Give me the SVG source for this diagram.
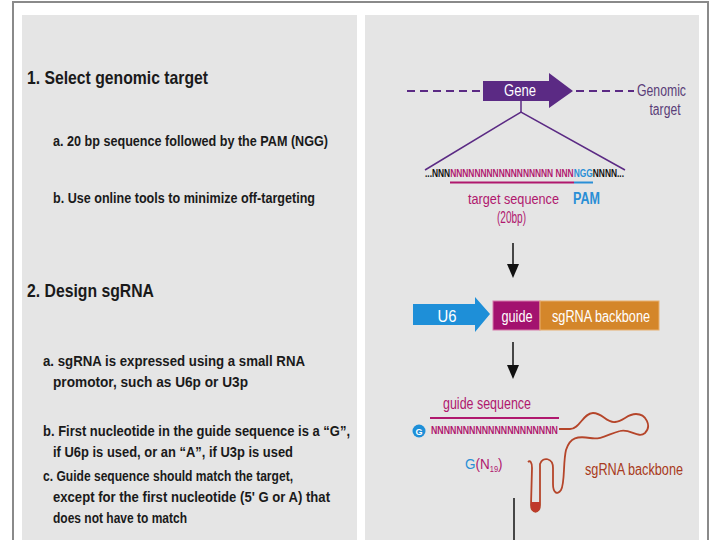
<svg xmlns="http://www.w3.org/2000/svg" width="720" height="540" viewBox="0 0 720 540">
<defs>
<style>
.panel{fill:#e5e5e5}
.frame{stroke:#8a8a8a;stroke-width:2;fill:none}
.h{font-family:"Liberation Sans",Arial,sans-serif;font-weight:bold;font-size:19px;fill:#1a1a1a}
.t{font-family:"Liberation Sans",Arial,sans-serif;font-weight:bold;font-size:15.5px;fill:#1a1a1a}
.r{font-family:"Liberation Sans",Arial,sans-serif;font-size:16px}
.seq{font-family:"Liberation Sans",Arial,sans-serif;font-weight:bold;font-size:8.4px}
.mag{fill:#b0186e}
.blu{fill:#2a8fd6}
.pur{fill:#5a3d78}
.wht{fill:#ffffff}
.blk{fill:#111111}
.conn{stroke:#111;stroke-width:1.5;fill:none}
.dash{stroke:#5b2a84;stroke-width:2;stroke-dasharray:8 5;fill:none}
</style>
<marker id="ah" viewBox="0 0 14 12" refX="6" refY="6" markerWidth="14" markerHeight="12" markerUnits="userSpaceOnUse" orient="auto">
<path d="M0,0 L14,6 L0,12 Z" fill="#111"/>
</marker>
</defs>
<rect width="720" height="540" fill="#ffffff"/>
<path class="frame" d="M13,540 L13,2 L708,2 L708,540"/>
<rect class="panel" x="22" y="15" width="335" height="525"/>
<rect class="panel" x="365" y="15" width="334" height="525"/>

<g id="left-text">
<text class="h" x="27" y="84" textLength="181" lengthAdjust="spacingAndGlyphs">1. Select genomic target</text>
<text class="t" x="53" y="146" textLength="275" lengthAdjust="spacingAndGlyphs">a. 20 bp sequence followed by the PAM (NGG)</text>
<text class="t" x="53" y="203" textLength="262" lengthAdjust="spacingAndGlyphs">b. Use online tools to minimize off-targeting</text>
<text class="h" x="27" y="297" textLength="127" lengthAdjust="spacingAndGlyphs">2. Design sgRNA</text>
<text class="t" x="43" y="366" textLength="262" lengthAdjust="spacingAndGlyphs">a. sgRNA is expressed using a small RNA</text>
<text class="t" x="53" y="387" textLength="195" lengthAdjust="spacingAndGlyphs">promotor, such as U6p or U3p</text>
<text class="t" x="43" y="436" textLength="307" lengthAdjust="spacingAndGlyphs">b. First nucleotide in the guide sequence is a “G”,</text>
<text class="t" x="53" y="457" textLength="240" lengthAdjust="spacingAndGlyphs">if U6p is used, or an “A”, if U3p is used</text>
<text class="t" x="43" y="481" textLength="250" lengthAdjust="spacingAndGlyphs">c. Guide sequence should match the target,</text>
<text class="t" x="53" y="502" textLength="277" lengthAdjust="spacingAndGlyphs">except for the first nucleotide (5' G or A) that</text>
<text class="t" x="53" y="523" textLength="134" lengthAdjust="spacingAndGlyphs">does not have to match</text>
</g>

<g id="gene">
<line class="dash" x1="407" y1="91" x2="482" y2="91"/>
<line class="dash" x1="576" y1="91" x2="634" y2="91"/>
<path d="M483,81 L549,81 L549,73 L573,91 L549,108 L549,101 L483,101 Z" fill="#5b2a84"/>
<text class="r wht" x="520" y="96" text-anchor="middle" textLength="32" lengthAdjust="spacingAndGlyphs">Gene</text>
<text class="r pur" x="637" y="96" textLength="49" lengthAdjust="spacingAndGlyphs">Genomic</text>
<text class="r pur" x="665" y="115" text-anchor="middle" textLength="31" lengthAdjust="spacingAndGlyphs">target</text>
</g>

<g id="target-sequence">
<text class="seq" transform="translate(425,177) scale(1,1.2)" x="0" y="0"><tspan class="blk">...NNN</tspan><tspan class="mag">NNNNNNNNNNNNNNNNN NNN</tspan><tspan class="blu">NGG</tspan><tspan class="blk">NNNN...</tspan></text>
<line x1="450" y1="182.5" x2="574" y2="182.5" stroke="#b0186e" stroke-width="2"/>
<line x1="574" y1="182.5" x2="593" y2="182.5" stroke="#2a8fd6" stroke-width="2"/>
<text class="r mag" transform="translate(468,204) scale(1,1.2)" x="0" y="0" style="font-size:12.7px">target sequence</text>
<text class="r mag" x="497" y="223" textLength="29" lengthAdjust="spacingAndGlyphs">(20bp)</text>
<text class="r blu" x="573" y="204" font-weight="bold" textLength="27" lengthAdjust="spacingAndGlyphs">PAM</text>
</g>

<g id="construct">
<path d="M413,304 L475,304 L475,297 L490,314 L475,332 L475,325 L413,325 Z" fill="#1e8fd8"/>
<text class="r wht" x="447" y="322" text-anchor="middle" textLength="19" lengthAdjust="spacingAndGlyphs">U6</text>
<rect x="493" y="301" width="47" height="29" fill="#a3126f" stroke="#d77aab" stroke-width="1"/>
<text class="r wht" x="517" y="322" text-anchor="middle" textLength="31" lengthAdjust="spacingAndGlyphs">guide</text>
<rect x="540" y="301" width="119" height="29" fill="#d4862a" stroke="#e8b070" stroke-width="1"/>
<text class="r wht" x="601" y="322" text-anchor="middle" textLength="98" lengthAdjust="spacingAndGlyphs">sgRNA backbone</text>
</g>

<g id="sgrna">
<text class="r mag" x="443" y="409" textLength="88" lengthAdjust="spacingAndGlyphs">guide sequence</text>
<line x1="430" y1="418" x2="559" y2="418" stroke="#b0186e" stroke-width="2"/>
<circle cx="419" cy="431" r="6.5" fill="#1e8fd8"/>
<text class="seq wht" x="419" y="434.5" text-anchor="middle" style="font-size:9px">G</text>
<text class="seq mag" transform="translate(431,434) scale(1,1.2)" x="0" y="0" style="font-size:8.8px">NNNNNNNNNNNNNNNNNNNN</text>
<path d="M559,429 L570,429 C580,429 583,413 593,413 C603,413 606,423 615,422 C624,421 627,414 636,414 C646,414 652,426 645,433 C638,439 630,428 620,431 C608,434 602,440 590,438 C578,436 570,437 566,450 C563,462 565,484 561,490 C557,496 553,492 553,484 L553,468 C553,458 543,456 540,464 L540,505 C540,514 531,514 531,505 L532,468 C532,462 530,460 528,462" fill="none" stroke="#b5452a" stroke-width="1.8"/>
<path d="M531,502 L540,502 L540,505 C540,514 531,514 531,505 Z" fill="#c0392b"/>
<text class="r" transform="translate(465,469) scale(1,1.15)" x="0" y="0" style="font-size:13.5px"><tspan class="blu">G</tspan><tspan class="mag">(N</tspan><tspan class="mag" style="font-size:7.5px" dy="3">19</tspan><tspan class="mag" dy="-3">)</tspan></text>
<text class="r" x="585" y="475" fill="#a83a20" textLength="98" lengthAdjust="spacingAndGlyphs">sgRNA backbone</text>
</g>

<g id="connectors">
<line x1="521" y1="101" x2="521" y2="112" stroke="#5b2a84" stroke-width="1.5"/>
<path d="M425,170 L521,112 L625,170" fill="none" stroke="#5b2a84" stroke-width="1.5"/>
<line class="conn" x1="513" y1="243" x2="513" y2="270" marker-end="url(#ah)"/>
<line class="conn" x1="513" y1="342" x2="513" y2="371" marker-end="url(#ah)"/>
<line class="conn" x1="514" y1="498" x2="514" y2="540"/>
</g>
</svg>
